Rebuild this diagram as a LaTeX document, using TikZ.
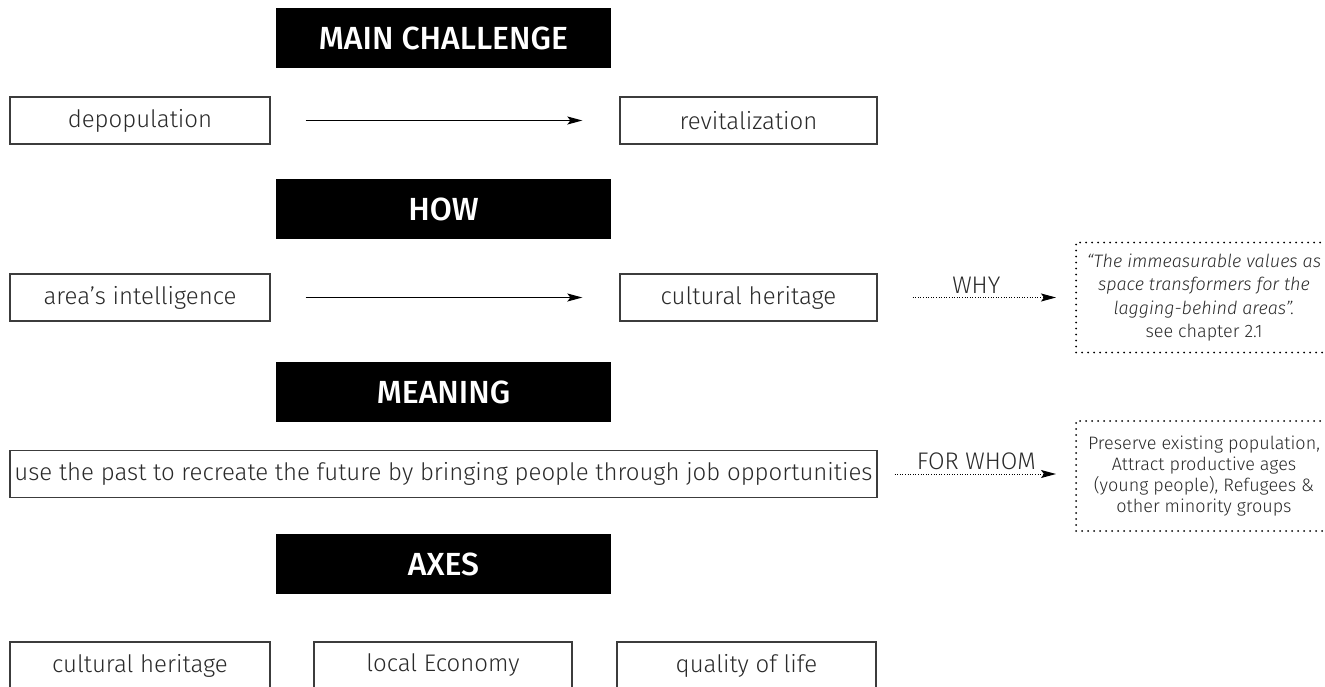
\documentclass[tikz,border=0pt]{standalone}
\usepackage{fontspec}
\setmainfont{Fira Sans}[UprightFont={* Light}, ItalicFont={* Light Italic}, BoldFont={* Medium}]
\usetikzlibrary{arrows.meta}
\definecolor{boxgray}{HTML}{3C3C3C}
\definecolor{txtgray}{HTML}{2A2A2A}
\begin{document}
\begin{tikzpicture}[x=1pt,y=-1pt,
  box/.style={draw=boxgray, line width=1.3pt, minimum width=260pt, minimum height=47pt, inner sep=0pt, text=txtgray, font=\fontsize{24}{28}\selectfont},
  head/.style={fill=black, minimum width=335pt, minimum height=60pt, inner sep=0pt, text=white, font=\bfseries\fontsize{32}{36}\selectfont},
  note/.style={draw=black, line width=2pt, dash pattern=on 0pt off 6pt, line cap=round, minimum width=256pt, minimum height=110pt, inner sep=0pt, align=center, text=txtgray},
  flow/.style={draw=black, line width=1.3pt, -{Stealth[length=15pt,width=8pt,inset=3pt]}},
  dotflow/.style={draw=black, line width=1pt, dash pattern=on 1pt off 1.6pt, -{Stealth[length=15pt,width=8pt,inset=3pt]}},
  lbl/.style={text=txtgray, font=\fontsize{24}{28}\selectfont, inner sep=0pt, above=4pt}
]
\useasboundingbox (0,0) rectangle (1325,686);
\fill[white] (0,0) rectangle (1325,686);
\clip (0,0) rectangle (1325,686);

% headings
\node[head] (hmain) at (443.5,38) {MAIN CHALLENGE};
\node[head] (hhow) at (443.5,209) {HOW};
\node[head] (hmean) at (443.5,392) {MEANING};
\node[head] (haxes) at (443.5,564) {AXES};

% row 1
\node[box] (depop) at (140,120.5) {depopulation};
\node[box, minimum width=257pt] (revit) at (748.5,120.5) {revitalization};
\draw[flow, shorten <=35pt, shorten >=37pt] (depop) -- (revit);

% row 2
\node[box] (area) at (140,297.5) {area’s intelligence};
\node[box, minimum width=257pt] (cult) at (748.5,297.5) {cultural heritage};
\draw[flow, shorten <=35pt, shorten >=37pt] (area) -- (cult);
\node[note, font=\fontsize{18}{23.5}\selectfont] (quote) at (1204,297.5)
  {\textit{“The immeasurable values as}\\\textit{space transformers for the}\\\textit{lagging-behind areas”.}\\see chapter 2.1};
\draw[dotflow, shorten <=35pt, shorten >=19pt] (cult) -- node[lbl] (why) {WHY} (quote);

% row 3
\node[box, minimum width=867pt] (long) at (443.5,474) {use the past to recreate the future by bringing people through job opportunities};
\node[note, font=\fontsize{18}{21}\selectfont] (whom) at (1204,476)
  {Preserve existing population,\\Attract productive ages\\(young people), Refugees \&\\other minority groups};
\draw[dotflow, shorten <=17pt, shorten >=19pt] (long) -- node[lbl] (forwhom) {FOR WHOM} (long -| whom.west);

% row 4
\node[box] (ax1) at (140,665.5) {cultural heritage};
\node[box, minimum width=258pt] (ax2) at (443,665.5) {local Economy};
\node[box, minimum width=259pt] (ax3) at (746.5,665.5) {quality of life};
\end{tikzpicture}
\end{document}
